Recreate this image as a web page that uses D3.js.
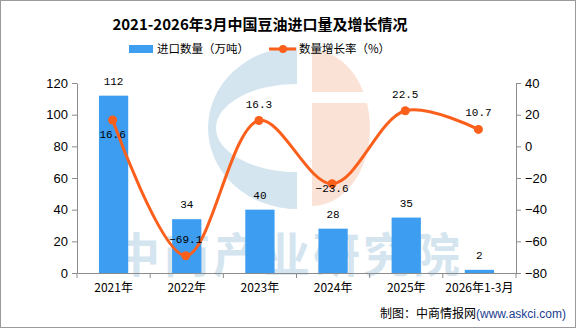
<!DOCTYPE html>
<html><head><meta charset="utf-8">
<script src="https://cdn.jsdelivr.net/npm/d3@7"></script>
<style>body{margin:0;background:#fff}svg{display:block}</style>
</head><body>
<svg id="c" width="576" height="328"></svg>
<script>
const categories = ["2021年","2022年","2023年","2024年","2025年","2026年1-3月"];
const importVolume = [112, 34, 40, 28, 35, 2];
const growthRate = [16.6, -69.1, 16.3, -23.6, 22.5, 10.7];
const leftTicks = [0, 20, 40, 60, 80, 100, 120];
const rightTicks = [-80, -60, -40, -20, 0, 20, 40];
const rateLabelPos = ["below","above","above","center","above","above"];

const W = 576, H = 328;
const m = {l:77, r:60, t:83, b:55};
const svg = d3.select("#c");
const cjk = "'Noto Sans CJK SC','Noto Sans',sans-serif";
const mono = "'Liberation Mono','DejaVu Sans Mono',monospace";

svg.append("rect").attr("x",0.5).attr("y",0.5).attr("width",W-1).attr("height",H-1)
  .attr("fill","#fff").attr("stroke","#9a9a9a");

const x = d3.scaleBand().domain(categories).range([m.l, W-m.r]).paddingInner(0.6).paddingOuter(0.3);
const xb = d3.scaleBand().domain(categories).range([m.l, W-m.r]);
const yL = d3.scaleLinear().domain([0,120]).range([H-m.b, m.t]);
const yR = d3.scaleLinear().domain([-80,40]).range([H-m.b, m.t]);

// watermark
const wm = svg.append("g");
const cx = 297, cy = 128;
wm.append("path").attr("fill","#d5e5ef")
  .attr("d", `M${cx},${cy-81} A89,81 0 0 0 ${cx},${cy+81} L${cx},${cy+44} A81,44 0 0 1 ${cx},${cy-44} Z`);
const cx2 = 312;
wm.append("path").attr("fill","#fbe2d6")
  .attr("d", `M${cx2},${cy-78} A58,78 0 0 1 ${cx2+58*Math.sqrt(1-Math.pow(36/78,2))},${cy-36} L${cx2},${cy-36} Z`);
wm.append("path").attr("fill","#fbe2d6")
  .attr("d", `M${cx2},${cy-25} L${cx2+58*Math.sqrt(1-Math.pow(25/78,2))},${cy-25} A58,78 0 0 1 ${cx2},${cy+78} Z`);
wm.append("text").attr("x",288).attr("y",272).attr("text-anchor","middle")
  .attr("font-family",cjk).attr("font-weight","bold").attr("font-size",47)
  .attr("letter-spacing",3).attr("fill","#d5e5ef").text("中商产业研究院");

// bars
svg.append("g").selectAll("rect").data(importVolume).join("rect")
  .attr("x",(d,i)=>x(categories[i])).attr("width",x.bandwidth())
  .attr("y",d=>yL(d)).attr("height",d=>yL(0)-yL(d)).attr("fill","#3d9df0");
svg.append("g").selectAll("text").data(importVolume).join("text")
  .attr("x",(d,i)=>x(categories[i])+x.bandwidth()/2).attr("y",d=>yL(d)-11)
  .attr("text-anchor","middle").attr("font-family",mono).attr("font-size",11).attr("fill","#000")
  .text(d=>d);

// axes
const axisStyle = g => { g.selectAll("path,line").attr("stroke","#8c8c8c"); g.selectAll("text").attr("fill","#000"); };
svg.append("g").attr("transform",`translate(${m.l},0)`)
  .call(d3.axisLeft(yL).tickValues(leftTicks).tickSize(5).tickSizeOuter(0).tickPadding(4))
  .call(axisStyle).call(g=>g.selectAll("text").attr("font-family","'Liberation Sans',sans-serif").attr("font-size",13));
svg.append("g").attr("transform",`translate(${W-m.r},0)`)
  .call(d3.axisRight(yR).tickValues(rightTicks).tickSize(5).tickSizeOuter(0).tickPadding(4).tickFormat(d=>d<0?"\u2212"+(-d):d))
  .call(axisStyle).call(g=>g.selectAll("text").attr("font-family","'Liberation Sans',sans-serif").attr("font-size",13));
const xa = svg.append("g").attr("transform",`translate(0,${H-m.b})`)
  .call(d3.axisBottom(xb).tickSize(0).tickSizeOuter(0).tickPadding(10))
  .call(axisStyle).call(g=>g.selectAll("text").attr("font-family",cjk).attr("font-size",12));
xa.selectAll(".bt").data(categories.concat([null])).join("line").attr("class","bt")
  .attr("x1",(d,i)=>m.l+i*xb.step()).attr("x2",(d,i)=>m.l+i*xb.step())
  .attr("y1",0).attr("y2",5).attr("stroke","#8c8c8c");

// line
const pts = growthRate.map((v,i)=>[xb(categories[i])+xb.bandwidth()/2 - 1, yR(v)]);
svg.append("path").datum(pts).attr("fill","none").attr("stroke","#fb5f1c").attr("stroke-width",3)
  .attr("d", d3.line().curve(d3.curveCatmullRom.alpha(0.5)));
svg.append("g").selectAll("circle").data(pts).join("circle")
  .attr("cx",d=>d[0]).attr("cy",d=>d[1]).attr("r",4.5).attr("fill","#fb5f1c");
svg.append("g").selectAll("text").data(growthRate).join("text")
  .attr("x",(d,i)=>pts[i][0]).attr("y",(d,i)=>pts[i][1] + (rateLabelPos[i]==="below"?18:rateLabelPos[i]==="center"?8:-13))
  .attr("text-anchor","middle").attr("font-family",mono).attr("font-size",11).attr("fill","#000")
  .text(d=>d<0?"\u2212"+(-d):d);

// title
svg.append("text").attr("x",260).attr("y",30).attr("text-anchor","middle")
  .attr("font-family",cjk).attr("font-weight","bold").attr("font-size",15).attr("fill","#000")
  .text("2021-2026年3月中国豆油进口量及增长情况");

// legend
svg.append("rect").attr("x",129).attr("y",45).attr("width",24).attr("height",8).attr("fill","#3d9df0");
svg.append("text").attr("x",157).attr("y",53).attr("font-family",cjk).attr("font-size",11.5).attr("fill","#000").text("进口数量（万吨）");
svg.append("line").attr("x1",269).attr("x2",296).attr("y1",49).attr("y2",49).attr("stroke","#fb5f1c").attr("stroke-width",3);
svg.append("circle").attr("cx",283).attr("cy",49).attr("r",4).attr("fill","#fb5f1c");
svg.append("text").attr("x",299).attr("y",53).attr("font-family",cjk).attr("font-size",11.5).attr("fill","#000").text("数量增长率（%）");

// source
const src = svg.append("text").attr("x",566).attr("y",318).attr("text-anchor","end")
  .attr("font-family",cjk).attr("font-size",12);
src.append("tspan").attr("fill","#000").text("制图：中商情报网");
src.append("tspan").attr("fill","#1a3d8f").attr("font-family","'Liberation Sans',sans-serif").text("(www.askci.com)");
</script>
</body></html>
